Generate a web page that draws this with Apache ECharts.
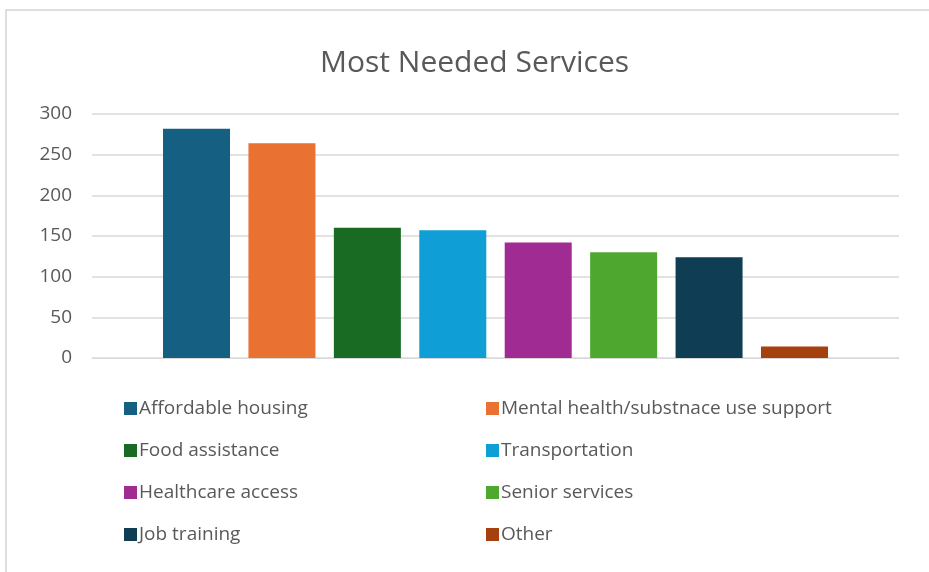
<!DOCTYPE html>
<html><head><meta charset="utf-8">
<script src="https://cdn.jsdelivr.net/npm/echarts@6/dist/echarts.min.js"></script>
<style>html,body{margin:0;padding:0;background:#fff;}#c{width:929px;height:572px;}</style>
</head><body><div id="c"></div>
<script>
const seriesNames = ["Affordable housing","Mental health/substnace use support","Food assistance","Transportation","Healthcare access","Senior services","Job training","Other"];
const seriesValues = [282, 264, 160, 157, 142, 130, 124, 14];
const seriesColors = ["#156082","#E97132","#196B24","#0F9ED5","#A02B93","#4EA72E","#0F3D53","#A5410E"];
const yTicks = [0, 50, 100, 150, 200, 250, 300];
const categories = [""];

const chart = echarts.init(document.getElementById('c'));
const txt = '#595959';
const font = 'Open Sans';
const legendCommon = {
  orient: 'vertical', top: 393, icon: 'rect', itemWidth: 13, itemHeight: 13,
  itemGap: 21, textStyle: {color: txt, fontSize: 19, fontFamily: font, lineHeight: 21, padding:[0,0,0,-3]},
  selectedMode: false
};
chart.setOption({
  backgroundColor: '#fff',
  animation: false,
  graphic: [{type:'rect', shape:{x:6, y:10, width:940, height:580}, style:{fill:'none', stroke:'#d4d4d4', lineWidth:1.5}, z: -1}],
  title: {text: 'Most Needed Services', left: 315, top: 43, textStyle: {color: txt, fontSize: 30, fontWeight: 'normal', fontFamily: font}},
  legend: [
    Object.assign({}, legendCommon, {left: 119, data: [0,2,4,6].map(i => seriesNames[i])}),
    Object.assign({}, legendCommon, {left: 481, data: [1,3,5,7].map(i => seriesNames[i])})
  ],
  grid: {left: 92, right: 30, top: 114, bottom: 572 - 358, containLabel: false},
  xAxis: {type: 'category', data: categories, axisLine: {lineStyle: {color: '#d9d9d9'}}, axisTick: {show: false}, axisLabel: {show: false}},
  yAxis: {type: 'value', min: yTicks[0], max: yTicks[yTicks.length-1], interval: 50,
    axisLine: {show: false}, axisTick: {show: false},
    axisLabel: {color: txt, fontSize: 19, fontFamily: font, margin: 20},
    splitLine: {lineStyle: {color: '#d9d9d9', width: 1.5}}},
  series: seriesNames.map((n, i) => ({
    name: n, type: 'bar', data: [seriesValues[i]], barWidth: 67, barGap: '27.5%',
    itemStyle: {color: seriesColors[i]}
  }))
});
</script></body></html>
